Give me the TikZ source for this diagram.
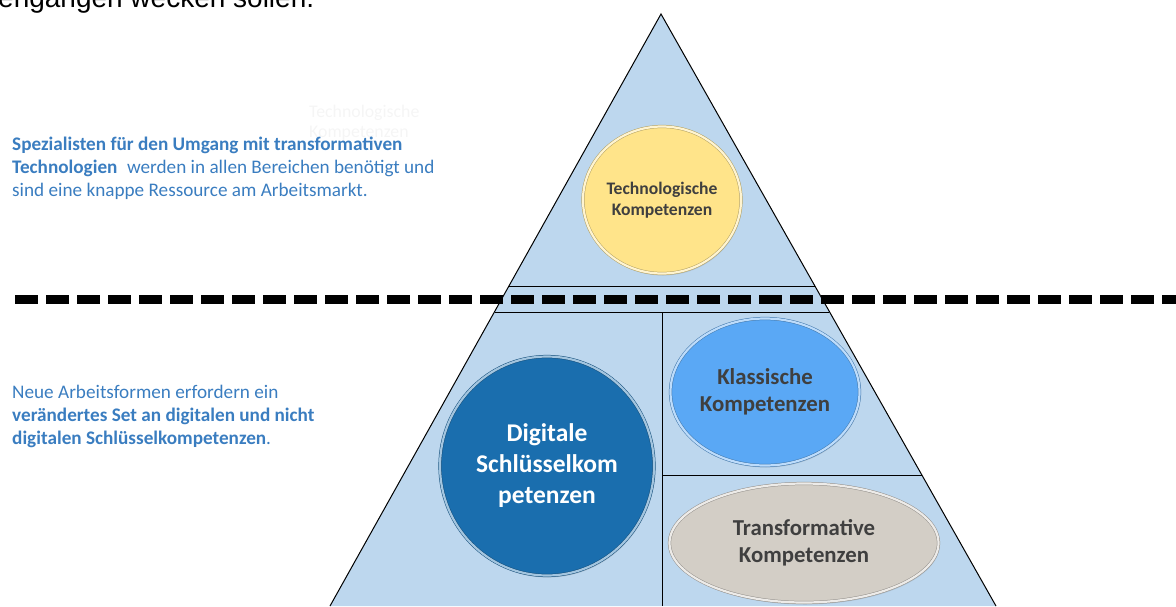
\documentclass[tikz,border=0pt]{standalone}
\usepackage{fontspec}
\setmainfont{Carlito}
\newfontfamily\arialfont{Liberation Sans}
\usepackage{tikz}
\usetikzlibrary{shapes.geometric,shadows,positioning}

\definecolor{pyramid}{HTML}{BDD7EE}
\definecolor{txtblue}{HTML}{3A7DC0}
\definecolor{txtgray}{HTML}{3F3F3F}
\definecolor{techyellow}{HTML}{FFE48A}
\definecolor{digiblue}{HTML}{1A6EAE}
\definecolor{klassblue}{HTML}{5AA8F5}
\definecolor{transgray}{HTML}{D3CEC6}

\tikzset{
    %Define style for the competence ellipses
    kompetenz/.style={
           ellipse,
           inner sep=0pt,
           fill=#1,
           draw=#1!70!black,
           double=#1!40!white,
           double distance=2.2pt,
           line width=0.5pt,
           align=center,
           text=txtgray,
           drop shadow={opacity=0.25,shadow xshift=1pt,shadow yshift=-2pt}},
    %Define style for the side texts
    info/.style={
           anchor=north west,
           inner sep=0pt,
           align=left,
           text=txtblue,
           font=\fontsize{19.2}{23}\selectfont},
    % Define line styles
    kante/.style={line width=1pt, black},
    trenner/.style={line width=9pt, black, dash pattern=on 23pt off 8pt}
}

\begin{document}
\begin{tikzpicture}[x=1pt,y=-1pt]
\useasboundingbox (0,0) rectangle (1176,606);

 %pyramid
\coordinate (apex) at (661,14);
\coordinate (bl) at (330,606);
\coordinate (br) at (996,606);
\fill[pyramid] (apex) -- (bl) -- (br) -- cycle;
\draw[kante] (bl) -- (apex) -- (br);
\draw[kante] (509,286) -- (815,286);
\draw[kante] (495,312) -- (829,312);
\draw[kante] (662,312) -- (662,606);
\draw[kante] (662,475) -- (922,475);

 %dashed separator
\coordinate (dl) at (15,299);
\coordinate (dr) at (1180,299);
\draw[trenner] (dl) -- (dr);

 %competences
\node[kompetenz=techyellow, minimum width=158, minimum height=147,
      font=\bfseries\fontsize{17.6}{20.7}\selectfont] (tech) at (662,200)
      {Technologische\\Kompetenzen};
\node[kompetenz=digiblue, minimum width=214, minimum height=219, text=white,
      font=\bfseries\fontsize{25.5}{31}\selectfont] (digi) at (547,466)
      {Digitale\\Schlüsselkom\\petenzen};
\node[kompetenz=klassblue, minimum width=189, minimum height=147,
      font=\bfseries\fontsize{22.8}{27}\selectfont] (klass) at (765,392)
      {Klassische\\Kompetenzen};
\node[kompetenz=transgray, minimum width=269, minimum height=119,
      font=\bfseries\fontsize{22.8}{27}\selectfont] (trans) at (804,543)
      {Transformative\\Kompetenzen};

 %texts
\node[anchor=base west, inner sep=0pt, font=\arialfont\fontsize{28}{32}\selectfont]
      (kopf) at (-2,7.3) {engangen wecken sollen.};
\node[anchor=north west, inner sep=0pt, align=left, text=black!4,
      font=\fontsize{17.8}{20}\selectfont] (geist) at (309,105)
      {Technologische\\Kompetenzen};
\node[info] (spez) at (12,137)
      {\textbf{Spezialisten für den Umgang mit transformativen}\\
       \textbf{Technologien}\enspace werden in allen Bereichen benötigt und\\
       sind eine knappe Ressource am Arbeitsmarkt.};
\node[info] (neue) at (12,385)
      {Neue Arbeitsformen erfordern ein\\
       \textbf{verändertes Set an digitalen und nicht}\\
       \textbf{digitalen Schlüsselkompetenzen}.};
\end{tikzpicture}
\end{document}
